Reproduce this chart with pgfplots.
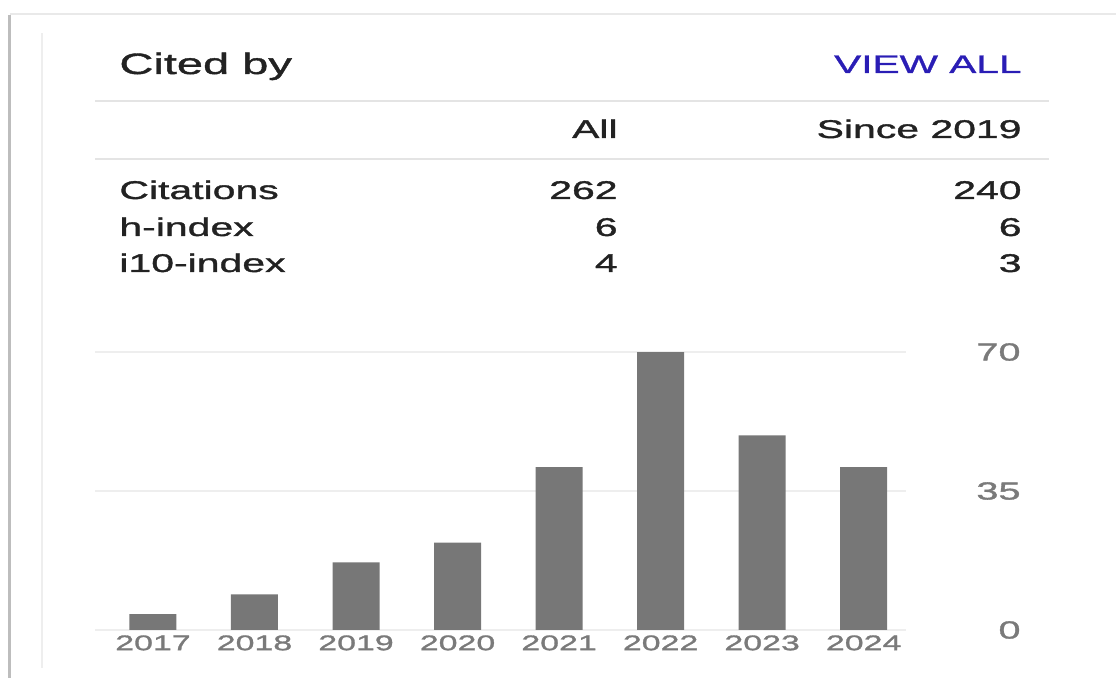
\documentclass[border=0pt]{standalone}
\usepackage{pgfplots}
\pgfplotsset{compat=1.18}
\usepackage{fontspec}
\setmainfont{Liberation Sans}[FakeStretch=1.6, FakeBold=1.4]
\definecolor{bargray}{HTML}{777777}
\definecolor{labelgray}{HTML}{7A7A7A}
\definecolor{textdark}{HTML}{222222}
\definecolor{linkblue}{HTML}{2A1DB5}
\definecolor{rulegray}{HTML}{E4E4E4}
\definecolor{gridgray}{HTML}{EEEEEE}
\definecolor{framegray}{HTML}{BDBDBD}
\begin{document}
\begin{tikzpicture}
\path[use as bounding box] (0,0) rectangle (558pt,-339pt);
\begin{scope}[x=0.5pt,y=-0.5pt]
  % card frame
  \draw[framegray, line width=1.8pt] (9.5,15) -- (9.5,678);
  \draw[rulegray!80, line width=1pt] (9.5,14.5) -- (1116,14.5);
  \draw[gridgray, line width=1pt] (42,33) -- (42,668);
  % rules
  \draw[rulegray, line width=0.8pt] (95,101) -- (1049,101);
  \draw[rulegray, line width=0.8pt] (95,159) -- (1049,159);
  % header
  \node[anchor=base west, inner sep=0pt, text=textdark, font=\fontsize{14.7pt}{17pt}\selectfont] at (119,74) {Cited by};
  \node[anchor=base east, inner sep=0pt, text=linkblue, font=\fontsize{12.7pt}{15pt}\selectfont] at (1022,73) {VIEW ALL};
  \node[anchor=base east, inner sep=0pt, text=textdark, font=\fontsize{12.8pt}{15pt}\selectfont] at (618,138) {All};
  \node[anchor=base east, inner sep=0pt, text=textdark, font=\fontsize{12.8pt}{15pt}\selectfont] at (1022,138) {Since 2019};
  % rows
  \begin{scope}[every node/.style={inner sep=0pt, text=textdark, font=\fontsize{12.8pt}{15pt}\selectfont}]
    \node[anchor=base west] at (119,199) {Citations};
    \node[anchor=base west] at (119,236) {h-index};
    \node[anchor=base west] at (119,272) {i10-index};
    \node[anchor=base east] at (618,199) {262};
    \node[anchor=base east] at (618,236) {6};
    \node[anchor=base east] at (618,272) {4};
    \node[anchor=base east] at (1022,199) {240};
    \node[anchor=base east] at (1022,236) {6};
    \node[anchor=base east] at (1022,272) {3};
  \end{scope}
\end{scope}
\begin{axis}[
  at={(47.5pt,-315pt)}, anchor=south west,
  scale only axis, width=405.5pt, height=139pt,
  xmin=-0.571, xmax=7.417, ymin=0, ymax=70,
  ybar, bar width=23.5pt,
  axis line style={draw=none},
  major tick length=0pt,
  xtick={0,1,2,3,4,5,6,7},
  xticklabels={2017,2018,2019,2020,2021,2022,2023,2024},
  ytick={0,35,70},
  yticklabel pos=right,
  ymajorgrids,
  grid style={color=gridgray, line width=0.8pt},
  /pgf/number format/assume math mode=true,
  xticklabel style={font=\fontsize{10.6pt}{12pt}\selectfont, text=labelgray, anchor=north, inner sep=0pt, yshift=-2.5pt},
  yticklabel style={font=\fontsize{12.4pt}{14pt}\selectfont, text=labelgray, anchor=east, inner sep=0pt, xshift=57.5pt},
  clip=false,
]
\addplot[fill=bargray, draw=none] coordinates {(0,4) (1,9) (2,17) (3,22) (4,41) (5,70) (6,49) (7,41)};
\end{axis}
\end{tikzpicture}
\end{document}
